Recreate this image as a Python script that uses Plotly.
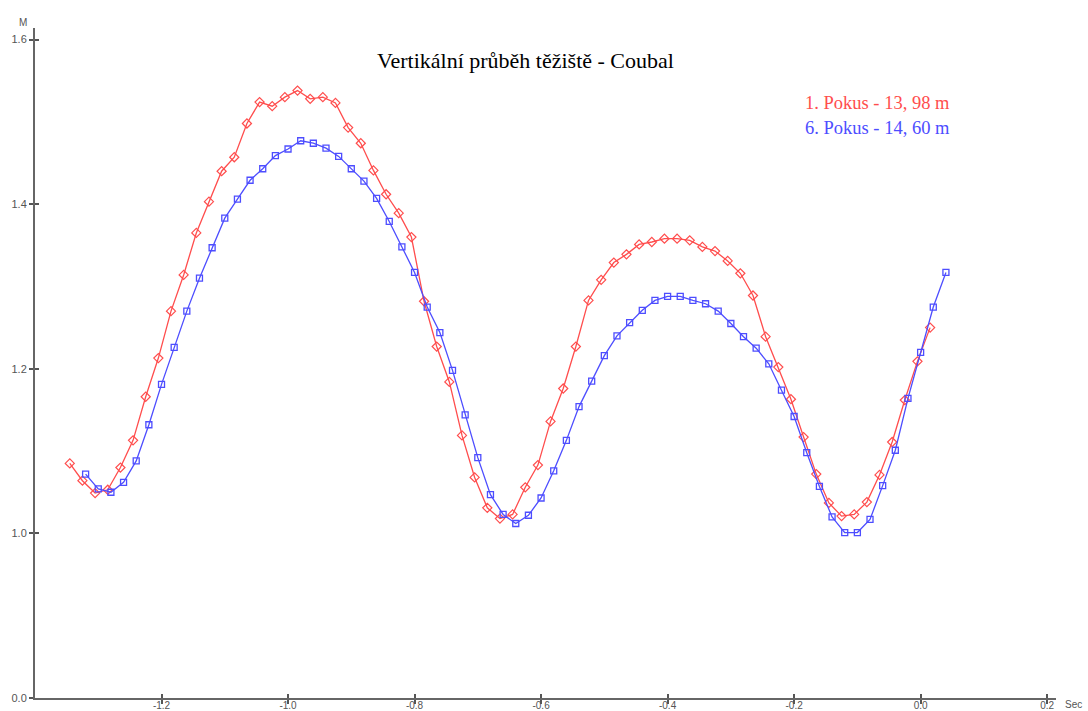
import plotly.graph_objects as go

# ---- data ----
red_x = [-1.345, -1.325, -1.305, -1.285, -1.265, -1.245, -1.225, -1.205, -1.185, -1.165,
         -1.145, -1.125, -1.105, -1.085, -1.065, -1.045, -1.025, -1.005, -0.985, -0.965,
         -0.945, -0.925, -0.905, -0.885, -0.865, -0.845, -0.825, -0.805, -0.785, -0.765,
         -0.745, -0.725, -0.705, -0.685, -0.665, -0.645, -0.625, -0.605, -0.585, -0.565,
         -0.545, -0.525, -0.505, -0.485, -0.465, -0.445, -0.425, -0.405, -0.385, -0.365,
         -0.345, -0.325, -0.305, -0.285, -0.265, -0.245, -0.225, -0.205, -0.185, -0.165,
         -0.145, -0.125, -0.105, -0.085, -0.065, -0.045, -0.025, -0.005, 0.015]
red_y = [1.085, 1.064, 1.049, 1.053, 1.080, 1.113, 1.166, 1.213, 1.270, 1.314,
         1.365, 1.403, 1.440, 1.457, 1.498, 1.524, 1.519, 1.530, 1.538, 1.528,
         1.530, 1.523, 1.493, 1.474, 1.441, 1.412, 1.389, 1.360, 1.282, 1.227,
         1.184, 1.119, 1.068, 1.031, 1.018, 1.023, 1.056, 1.083, 1.136, 1.176,
         1.227, 1.283, 1.308, 1.329, 1.339, 1.351, 1.354, 1.358, 1.358, 1.356,
         1.348, 1.343, 1.331, 1.316, 1.289, 1.239, 1.202, 1.163, 1.117, 1.072,
         1.037, 1.021, 1.023, 1.038, 1.071, 1.111, 1.162, 1.209, 1.250]

blue_x = [-1.32, -1.30, -1.28, -1.26, -1.24, -1.22, -1.20, -1.18, -1.16, -1.14,
          -1.12, -1.10, -1.08, -1.06, -1.04, -1.02, -1.00, -0.98, -0.96, -0.94,
          -0.92, -0.90, -0.88, -0.86, -0.84, -0.82, -0.80, -0.78, -0.76, -0.74,
          -0.72, -0.70, -0.68, -0.66, -0.64, -0.62, -0.60, -0.58, -0.56, -0.54,
          -0.52, -0.50, -0.48, -0.46, -0.44, -0.42, -0.40, -0.38, -0.36, -0.34,
          -0.32, -0.30, -0.28, -0.26, -0.24, -0.22, -0.20, -0.18, -0.16, -0.14,
          -0.12, -0.10, -0.08, -0.06, -0.04, -0.02, 0.00, 0.02, 0.04]
blue_y = [1.072, 1.054, 1.050, 1.062, 1.088, 1.132, 1.181, 1.226, 1.270, 1.310,
          1.347, 1.383, 1.406, 1.429, 1.443, 1.459, 1.467, 1.477, 1.474, 1.468,
          1.458, 1.443, 1.428, 1.407, 1.379, 1.348, 1.317, 1.275, 1.244, 1.198,
          1.144, 1.092, 1.047, 1.023, 1.012, 1.022, 1.043, 1.076, 1.113, 1.154,
          1.185, 1.216, 1.240, 1.256, 1.271, 1.283, 1.288, 1.288, 1.283, 1.279,
          1.270, 1.255, 1.239, 1.225, 1.206, 1.174, 1.142, 1.098, 1.057, 1.020,
          1.001, 1.001, 1.017, 1.058, 1.101, 1.164, 1.220, 1.275, 1.317]

x_tickvals = [-1.2, -1.0, -0.8, -0.6, -0.4, -0.2, 0.0, 0.2]
x_ticktext = ["-1.2", "-1.0", "-0.8", "-0.6", "-0.4", "-0.2", "0.0", "0.2"]
y_tickvals = [0.8, 1.0, 1.2, 1.4, 1.6]          # bottom of the broken axis is labelled 0.0
y_ticktext = ["0.0", "1.0", "1.2", "1.4", "1.6"]

title_text = "Vertikální průběh těžiště - Coubal"
series_names = ["1. Pokus - 13, 98 m", "6. Pokus - 14, 60 m"]
RED = "#ff4d4d"
BLUE = "#4d4dff"

fig = go.Figure()
fig.add_trace(go.Scatter(x=red_x, y=red_y, mode="lines+markers", name=series_names[0],
                         line=dict(color=RED, width=1.3),
                         marker=dict(symbol="diamond-open", size=7, color=RED,
                                     line=dict(width=1.2, color=RED))))
fig.add_trace(go.Scatter(x=blue_x, y=blue_y, mode="lines+markers", name=series_names[1],
                         line=dict(color=BLUE, width=1.3),
                         marker=dict(symbol="square-open", size=6, color=BLUE,
                                     line=dict(width=1.3, color=BLUE))))
# invisible trace to activate the overlay axes (inner half of crossing ticks)
fig.add_trace(go.Scatter(x=[None], y=[None], xaxis="x2", yaxis="y2",
                         showlegend=False, hoverinfo="skip"))

XR = [-1.4, 0.214]
YR = [0.8, 1.614]
sans = "Liberation Sans, Arial, sans-serif"
serif = "Liberation Serif, Times New Roman, serif"
ytickfont = dict(family=sans, size=11, color="#555555")
xtickfont = dict(family=sans, size=10, color="#555555")

fig.update_layout(
    width=1088, height=711,
    margin=dict(l=35, r=32, t=28, b=13, autoexpand=False),
    paper_bgcolor="white", plot_bgcolor="white",
    showlegend=False,
    xaxis=dict(range=XR, tickvals=x_tickvals, ticktext=x_ticktext,
               showline=True, linecolor="#666666", linewidth=2,
               ticks="outside", ticklen=4, tickwidth=1.5, tickcolor="#555555",
               ticklabelstandoff=-7,
               showgrid=False, zeroline=False, tickfont=xtickfont),
    yaxis=dict(range=YR, tickvals=y_tickvals, ticktext=y_ticktext,
               showline=True, linecolor="#666666", linewidth=2,
               ticks="outside", ticklen=4, tickwidth=1.5, tickcolor="#555555",
               showgrid=False, zeroline=False, tickfont=ytickfont),
    xaxis2=dict(range=XR, overlaying="x", anchor="y2", side="bottom",
                tickvals=x_tickvals, ticks="inside", ticklen=4, tickwidth=1.5,
                tickcolor="#555555", showticklabels=False, showline=False,
                showgrid=False, zeroline=False),
    yaxis2=dict(range=YR, overlaying="y", anchor="x2", side="left",
                tickvals=y_tickvals, ticks="inside", ticklen=4, tickwidth=1.5,
                tickcolor="#555555", showticklabels=False, showline=False,
                showgrid=False, zeroline=False),
)

annos = [
    dict(text=title_text, xref="paper", yref="paper", x=0.48, y=(698 - 60) / 670,
         xanchor="center", yanchor="middle", showarrow=False,
         font=dict(family=serif, size=22, color="black")),
    dict(text=series_names[0], xref="paper", yref="paper", x=(952 - 35) / 1021,
         y=(698 - 103) / 670, xanchor="right", yanchor="middle", showarrow=False,
         font=dict(family=serif, size=18.5, color=RED)),
    dict(text=series_names[1], xref="paper", yref="paper", x=(952 - 35) / 1021,
         y=(698 - 128) / 670, xanchor="right", yanchor="middle", showarrow=False,
         font=dict(family=serif, size=18.5, color=BLUE)),
    dict(text="M", xref="paper", yref="paper", x=(23 - 35) / 1021, y=(698 - 22) / 670,
         xanchor="center", yanchor="middle", showarrow=False,
         font=dict(family=sans, size=10, color="#555555")),
    dict(text="Sec", xref="paper", yref="paper", x=(1063 - 35) / 1021, y=(698 - 704) / 670,
         xanchor="left", yanchor="middle", showarrow=False,
         font=dict(family=sans, size=10, color="#555555")),
]
fig.update_layout(annotations=annos)

fig.write_html("out.html")
